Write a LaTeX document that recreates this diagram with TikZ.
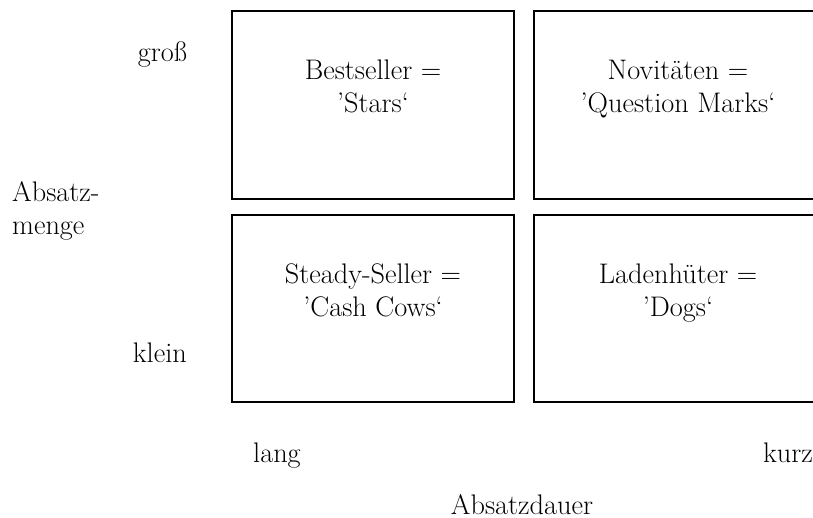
\documentclass[tikz,border=0pt]{standalone}
\usetikzlibrary{shadows}
\begin{document}
\begin{tikzpicture}[x=1bp,y=-1bp,
  every node/.style={font=\fontsize{28.3bp}{33bp}\selectfont, inner sep=0pt},
  field/.style={draw=black, line width=1.6bp, fill=white, rectangle,
    minimum width=282bp, minimum height=188bp,
    drop shadow={shadow xshift=1.4bp, shadow yshift=-1.4bp, fill=black!22, opacity=1}},
  cell/.style={align=center, anchor=base},
  axis/.style={anchor=base}]
\useasboundingbox (0,0) rectangle (813,518);

% the four quadrants
\node[field] (tl) at (373,105) {};
\node[field] (tr) at (675,105) {};
\node[field, minimum height=187bp] (bl) at (373,308.5) {};
\node[field, minimum height=187bp] (br) at (675,308.5) {};

% quadrant labels (base anchor sits on the second line)
\node[cell] (tlt) at (373,113) {Bestseller =\\’Stars‘};
\node[cell] (trt) at (678,113) {Novitäten =\\’Question Marks‘};
\node[cell] (blt) at (373,317) {Steady-Seller =\\’Cash Cows‘};
\node[cell] (brt) at (678,317) {Ladenhüter =\\’Dogs‘};

% vertical axis
\node[axis, anchor=base east] (gross) at (187,62)  {groß};
\node[axis, anchor=base east] (klein) at (187,362) {klein};
\node[align=left, anchor=base west] (menge) at (12,235) {Absatz-\\menge};

% horizontal axis
\node[axis, anchor=base west] (lang) at (253,462) {lang};
\node[axis, anchor=base west] (kurz) at (763,462) {kurz};
\node[axis] (dauer) at (522,514) {Absatzdauer};
\end{tikzpicture}
\end{document}
